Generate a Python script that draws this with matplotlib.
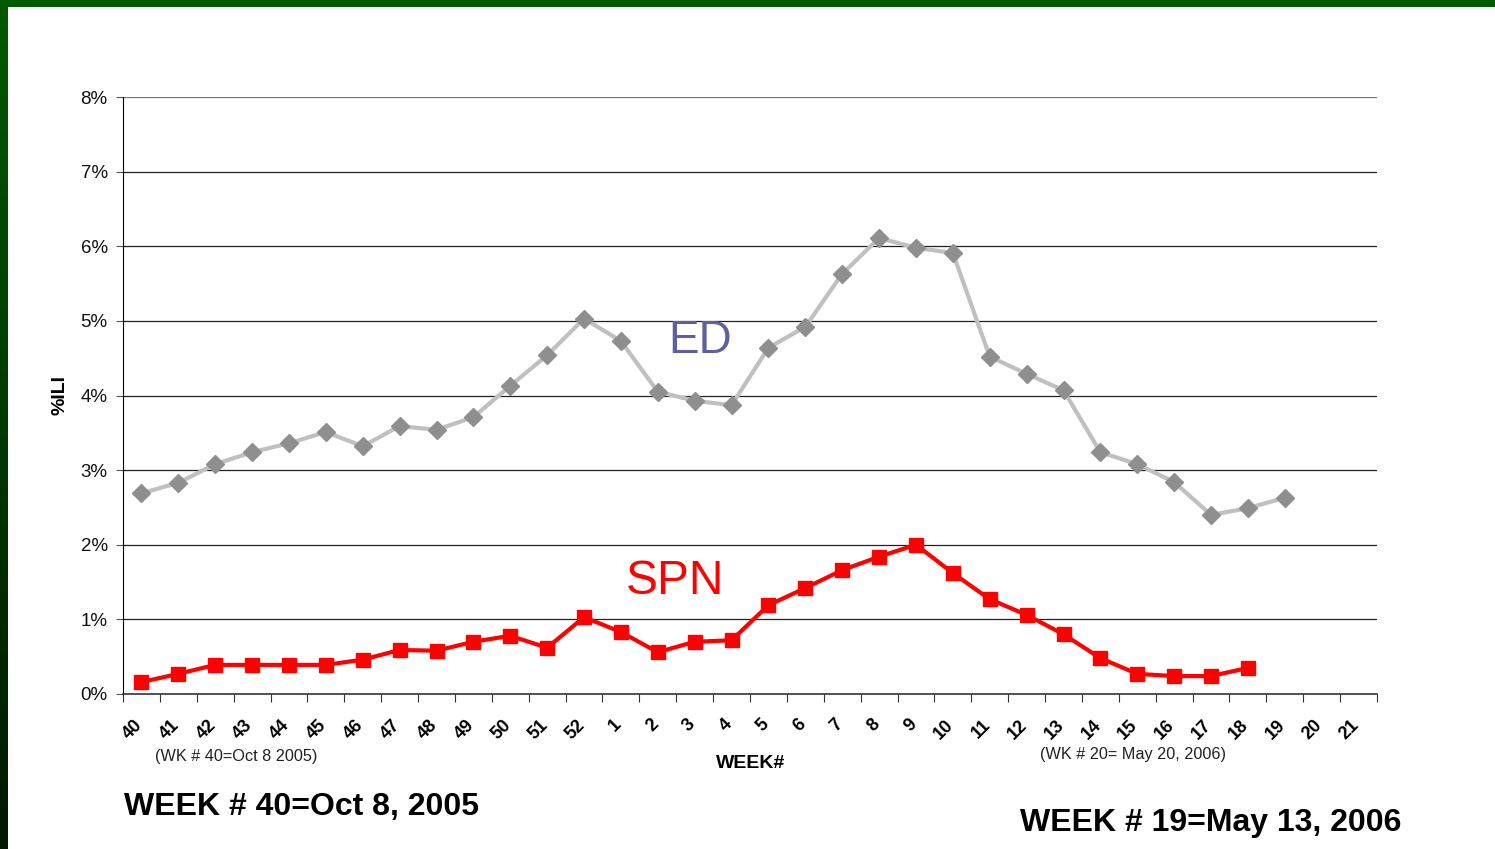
import numpy as np
import matplotlib
matplotlib.use("Agg")
import matplotlib.pyplot as plt

plt.rcParams["font.family"] = ["Liberation Sans", "DejaVu Sans"]

# week labels (Oct 2005 - May 2006)
weeks = [str(w) for w in range(40, 53)] + [str(w) for w in range(1, 22)]

# %ILI, emergency department
ed = [2.69, 2.83, 3.08, 3.24, 3.36, 3.51, 3.32, 3.59, 3.54, 3.71, 4.13, 4.54, 5.03,
      4.73, 4.05, 3.93, 3.87, 4.64, 4.92, 5.63, 6.11, 5.98, 5.91, 4.52, 4.29, 4.07,
      3.24, 3.08, 2.84, 2.40, 2.49, 2.63]

# %ILI, sentinel provider network
spn = [0.16, 0.27, 0.39, 0.39, 0.39, 0.39, 0.46, 0.59, 0.58, 0.70, 0.78, 0.62, 1.03,
       0.83, 0.56, 0.70, 0.72, 1.19, 1.42, 1.66, 1.84, 2.00, 1.62, 1.27, 1.06, 0.80,
       0.48, 0.27, 0.24, 0.24, 0.35]

W, H = 1495, 849
fig = plt.figure(figsize=(W / 100, H / 100), dpi=100)
fig.patch.set_facecolor("white")

def fx(px):
    return px / W

def fy(py):
    return 1 - py / H

# green slide frame
top = fig.add_axes([0, fy(7), 1, 7 / H])
top.set_axis_off()
top.imshow(np.ones((1, 2, 3)) * np.array([0, 0x5a, 0]) / 255, aspect="auto")
left = fig.add_axes([0, 0, 8 / W, 1])
left.set_axis_off()
g = np.linspace(0x5a, 0x18, 200)
grad = np.zeros((200, 1, 3))
grad[:, 0, 1] = g / 255
left.imshow(grad, aspect="auto")

ax = fig.add_axes([fx(123), fy(694), fx(1377) - fx(123), fy(97) - fy(694)])
x_ed = np.arange(len(ed))
x_spn = np.arange(len(spn))

for v in range(1, 9):
    ax.axhline(v, color="#222222" if v < 8 else "#777777", lw=0.9, zorder=1)

ax.plot(x_ed, ed, color="#c0c0c0", lw=3, marker="D", ms=9,
        mfc="#8f8f8f", mec="#8f8f8f", zorder=3)
ax.plot(x_spn, spn, color="#ff0000", lw=3, marker="s", ms=10.5,
        mfc="#ff0000", mec="#ff0000", zorder=4)

ax.set_xlim(-0.5, len(weeks) - 0.5)
ax.set_ylim(0, 8)
ax.set_yticks(range(0, 9))
ax.set_yticklabels([f"{v}%" for v in range(0, 9)], fontsize=13.5, color="#111111")
ax.set_xticks(np.arange(len(weeks) + 1) - 0.5)
ax.set_xticklabels([])
# label anchors nudged a little right so rotated text ends at the category centre
ax.set_xticks(np.arange(len(weeks)) + 0.11, minor=True)
ax.set_xticklabels(weeks, minor=True, rotation=45, fontsize=13, fontweight="bold",
                   ha="right", va="top")
ax.tick_params(axis="x", which="major", length=6, direction="out", color="#333333")
ax.tick_params(axis="x", which="minor", length=0, pad=16)
ax.tick_params(axis="y", length=5, direction="out", color="#555555", pad=6)
for s in ["top", "right"]:
    ax.spines[s].set_visible(False)
ax.spines["left"].set_color("black")
ax.spines["bottom"].set_color("#333333")
ax.spines["bottom"].set_linewidth(1.2)

fig.text(fx(60), fy(395), "%ILI", rotation=90, ha="center", va="center",
         fontsize=14, fontweight="bold")
fig.text(fx(751), fy(763), "WEEK#", ha="center", va="center", fontsize=14,
         fontweight="bold")
fig.text(fx(236), fy(756), "(WK # 40=Oct 8 2005)", ha="center", va="center",
         fontsize=11.7, color="#222222")
fig.text(fx(1133), fy(755), "(WK # 20= May 20, 2006)", ha="center", va="center",
         fontsize=11.7, color="#222222")
fig.text(fx(124), fy(807), "WEEK # 40=Oct 8, 2005", ha="left", va="center",
         fontsize=23, fontweight="bold")
fig.text(fx(1020), fy(823), "WEEK # 19=May 13, 2006", ha="left", va="center",
         fontsize=23, fontweight="bold")
fig.text(fx(700), fy(341), "ED", ha="center", va="center", fontsize=33,
         color="#5f5f9f")
fig.text(fx(675), fy(581), "SPN", ha="center", va="center", fontsize=34.5,
         color="#ff0000")

fig.savefig("out.png", dpi=100, facecolor="white")
